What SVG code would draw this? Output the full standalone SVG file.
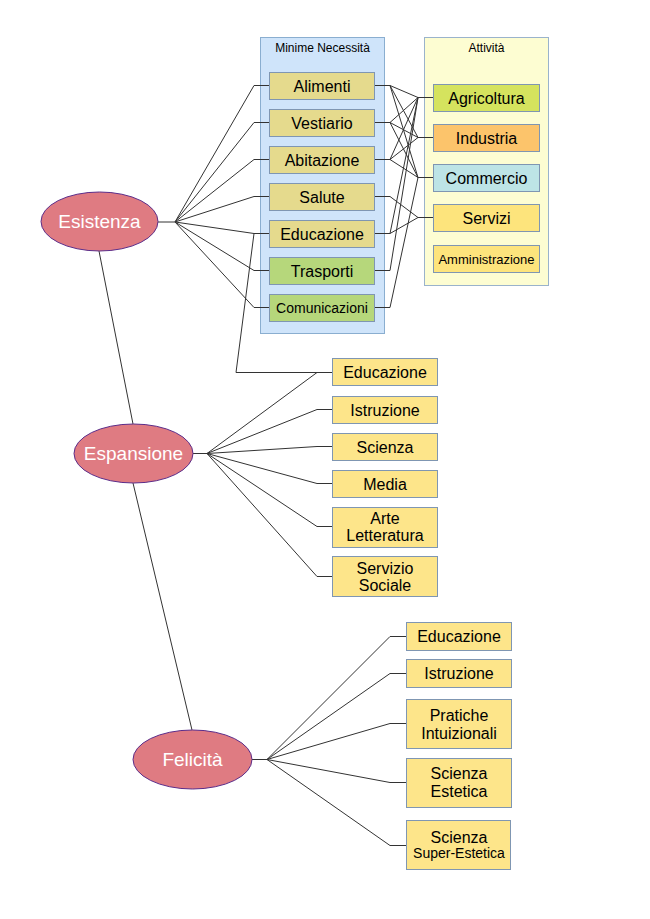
<svg xmlns="http://www.w3.org/2000/svg" width="650" height="919" viewBox="0 0 650 919">
<style>
text{font-family:"Liberation Sans",Arial,sans-serif;text-anchor:middle;fill:#000}
.t16{font-size:16px}
.t14{font-size:14px}
.t13{font-size:13px}
.t12{font-size:12px}
.el{fill:#df7b82;stroke:#5b2d8a;stroke-width:1}
.et{fill:#fff;font-size:19px}
.box{stroke:#7f96b2;stroke-width:1}
.kh{fill:#e5da8d}
.gr{fill:#b6d77b}
.yl{fill:#fde58a}
.ag{fill:#d5e35e}
.in{fill:#fcc46b}
.co{fill:#bde4e6}
.se{fill:#fde47c}
.conn path{fill:none;stroke:#333;stroke-width:1}
</style>
<rect width="650" height="919" fill="#fff"/>

<g id="panel-minime">
<rect x="260.5" y="37.5" width="124" height="296" fill="#cfe4fa" stroke="#8aaed0"/>
<text class="t12" x="322.5" y="52">Minime Necessità</text>
</g>
<g id="panel-attivita">
<rect x="424.5" y="37.5" width="124" height="248" fill="#fdfdd2" stroke="#9ab3cc"/>
<text class="t12" x="486.5" y="52">Attività</text>
</g>

<g class="conn" id="connectors">
<path d="M99,251 L133,424"/>
<path d="M133,483 L192,730"/>
<path d="M158,222 H175"/>
<path d="M175,222 L254,85.5 H269"/>
<path d="M175,222 L254,122.5 H269"/>
<path d="M175,222 L254,159.5 H269"/>
<path d="M175,222 L254,196.5 H269"/>
<path d="M175,222 L254,233.5 H269"/>
<path d="M175,222 L254,270.5 H269"/>
<path d="M175,222 L254,307.5 H269"/>
<path d="M254,233.5 L236,372.5 H332"/>
<path d="M374,85.5 H390 M374,122.5 H390 M374,159.5 H390 M374,196.5 H390 M374,233.5 H390 M374,270.5 H390 M374,307.5 H390"/>
<path d="M418,97.5 H433 M418,137.5 H433 M418,177.5 H433 M418,217.5 H433"/>
<path d="M390,85.5 L418,97.5 M390,85.5 L418,137.5 M390,85.5 L418,177.5"/>
<path d="M390,122.5 L418,97.5 M390,122.5 L418,137.5 M390,122.5 L418,177.5"/>
<path d="M390,159.5 L418,97.5 M390,159.5 L418,137.5 M390,159.5 L418,177.5"/>
<path d="M390,196.5 L418,217.5"/>
<path d="M390,233.5 L418,217.5 M390,233.5 L418,97.5"/>
<path d="M390,270.5 L418,97.5"/>
<path d="M390,307.5 L418,177.5"/>
<path d="M193,453.5 H207"/>
<path d="M207,453.5 L317,372.5 H332"/>
<path d="M207,453.5 L317,409.5 H332"/>
<path d="M207,453.5 L317,446.5 H332"/>
<path d="M207,453.5 L317,483.5 H332"/>
<path d="M207,453.5 L317,526.5 H332"/>
<path d="M207,453.5 L317,576.5 H332"/>
<path d="M252,759.5 H267"/>
<path d="M267,759.5 L390,636.5 H406"/>
<path d="M267,759.5 L390,673.5 H406"/>
<path d="M267,759.5 L390,723.5 H406"/>
<path d="M267,759.5 L390,782.5 H406"/>
<path d="M267,759.5 L390,845.5 H406"/>
</g>

<g id="esistenza"><ellipse class="el" cx="99.5" cy="221.5" rx="58.5" ry="29.5"/><text class="et" x="99.5" y="228">Esistenza</text></g>
<g id="espansione"><ellipse class="el" cx="133.5" cy="453.5" rx="59.5" ry="29.5"/><text class="et" x="133.5" y="460">Espansione</text></g>
<g id="felicita"><ellipse class="el" cx="192.5" cy="759.5" rx="59.5" ry="29.5"/><text class="et" x="192.5" y="766">Felicità</text></g>

<g id="mn-alimenti"><rect class="box kh" x="269.5" y="72.5" width="105" height="27"/><text class="t16" x="322" y="91.5">Alimenti</text></g>
<g id="mn-vestiario"><rect class="box kh" x="269.5" y="109.5" width="105" height="27"/><text class="t16" x="322" y="128.5">Vestiario</text></g>
<g id="mn-abitazione"><rect class="box kh" x="269.5" y="146.5" width="105" height="27"/><text class="t16" x="322" y="165.5">Abitazione</text></g>
<g id="mn-salute"><rect class="box kh" x="269.5" y="183.5" width="105" height="27"/><text class="t16" x="322" y="202.5">Salute</text></g>
<g id="mn-educazione"><rect class="box kh" x="269.5" y="220.5" width="105" height="27"/><text class="t16" x="322" y="239.5">Educazione</text></g>
<g id="mn-trasporti"><rect class="box gr" x="269.5" y="257.5" width="105" height="27"/><text class="t16" x="322" y="276.5">Trasporti</text></g>
<g id="mn-comunicazioni"><rect class="box gr" x="269.5" y="294.5" width="105" height="27"/><text class="t14" x="322" y="313">Comunicazioni</text></g>

<g id="at-agricoltura"><rect class="box ag" x="433.5" y="84.5" width="106" height="27"/><text class="t16" x="486.5" y="103.5">Agricoltura</text></g>
<g id="at-industria"><rect class="box in" x="433.5" y="124.5" width="106" height="27"/><text class="t16" x="486.5" y="143.5">Industria</text></g>
<g id="at-commercio"><rect class="box co" x="433.5" y="164.5" width="106" height="27"/><text class="t16" x="486.5" y="183.5">Commercio</text></g>
<g id="at-servizi"><rect class="box se" x="433.5" y="204.5" width="106" height="27"/><text class="t16" x="486.5" y="223.5">Servizi</text></g>
<g id="at-amministrazione"><rect class="box se" x="433.5" y="245.5" width="106" height="27"/><text class="t13" x="486.5" y="263.5">Amministrazione</text></g>

<g id="es-educazione"><rect class="box yl" x="332.5" y="358.5" width="105" height="27"/><text class="t16" x="385" y="377.5">Educazione</text></g>
<g id="es-istruzione"><rect class="box yl" x="332.5" y="396.5" width="105" height="27"/><text class="t16" x="385" y="415.5">Istruzione</text></g>
<g id="es-scienza"><rect class="box yl" x="332.5" y="433.5" width="105" height="27"/><text class="t16" x="385" y="452.5">Scienza</text></g>
<g id="es-media"><rect class="box yl" x="332.5" y="470.5" width="105" height="27"/><text class="t16" x="385" y="489.5">Media</text></g>
<g id="es-arte"><rect class="box yl" x="332.5" y="507.5" width="105" height="40"/><text class="t16" x="385" y="523.5">Arte</text><text class="t16" x="385" y="540.5">Letteratura</text></g>
<g id="es-servizio"><rect class="box yl" x="332.5" y="556.5" width="105" height="40"/><text class="t16" x="385" y="573.5">Servizio</text><text class="t16" x="385" y="590.5">Sociale</text></g>

<g id="fe-educazione"><rect class="box yl" x="406.5" y="622.5" width="105" height="28"/><text class="t16" x="459" y="642">Educazione</text></g>
<g id="fe-istruzione"><rect class="box yl" x="406.5" y="659.5" width="105" height="28"/><text class="t16" x="459" y="679">Istruzione</text></g>
<g id="fe-pratiche"><rect class="box yl" x="406.5" y="699.5" width="105" height="49"/><text class="t16" x="459" y="720.5">Pratiche</text><text class="t16" x="459" y="738.5">Intuizionali</text></g>
<g id="fe-estetica"><rect class="box yl" x="406.5" y="758.5" width="105" height="49"/><text class="t16" x="459" y="778.5">Scienza</text><text class="t16" x="459" y="796.5">Estetica</text></g>
<g id="fe-super"><rect class="box yl" x="406.5" y="820.5" width="104" height="49"/><text class="t16" x="459" y="842.5">Scienza</text><text class="t14" x="459" y="858">Super-Estetica</text></g>
</svg>
